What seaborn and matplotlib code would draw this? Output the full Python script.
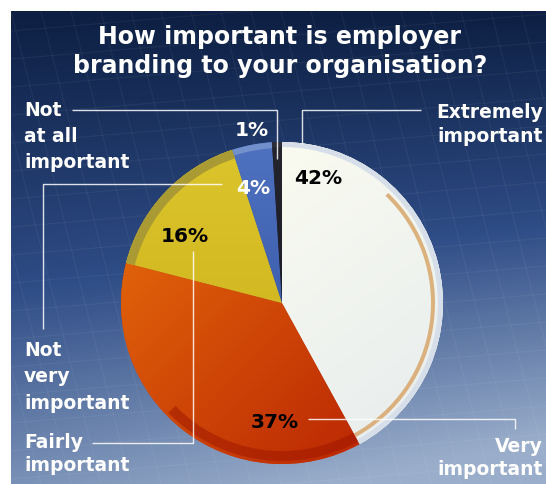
import numpy as np
import matplotlib
matplotlib.use("Agg")
import matplotlib.pyplot as plt
import seaborn as sns
from matplotlib.patches import Wedge
from matplotlib.colors import to_rgb

# ---------------- data ----------------
categories = ["Extremely important", "Very important", "Fairly important",
              "Not very important", "Not at all important"]
values = [42, 37, 16, 4, 1]
pct_labels = ["42%", "37%", "16%", "4%", "1%"]
outer_labels = ["Extremely\nimportant", "Very\nimportant", "Fairly\nimportant",
                "Not\nvery\nimportant", "Not\nat all\nimportant"]
title_lines = ["How important is employer", "branding to your organisation?"]

# ---------------- style ----------------
sns.set_theme(style="white")
FONT = ["DejaVu Sans"]
plt.rcParams["font.family"] = FONT

W, H = 546, 485
fig = plt.figure(figsize=(W / 100, H / 100), dpi=100)
fig.patch.set_facecolor("white")
ax = fig.add_axes([0, 0, 1, 1])

def Y(yp):
    return H - yp

# background gradient (frame starts at x=11, y=12 in pixel space)
fx0, fy0 = 11, 12
ny, nx = 300, 300
yy, xx = np.mgrid[0:1:ny * 1j, 0:1:nx * 1j]
top = np.array(to_rgb("#0d1f42"))
mid = np.array(to_rgb("#2e4c86"))
bot = np.array(to_rgb("#9aaecb"))
t = np.clip(yy * 0.85 + 0.25 * xx * yy, 0, 1)
img = np.where(t[..., None] < 0.5,
               top + (mid - top) * (t[..., None] / 0.5),
               mid + (bot - mid) * ((t[..., None] - 0.5) / 0.5))
ax.imshow(img, extent=(fx0, W, Y(H), Y(fy0)), origin="upper", zorder=0, aspect="auto")

# faint perspective grid
for k in range(-6, 26):
    x0 = fx0 + k * 30
    ax.plot([x0, x0 + 120], [Y(fy0), Y(H)], color="white", alpha=0.05, lw=0.8, zorder=1)
for k in range(0, 20):
    y0 = fy0 + k * 28
    ax.plot([fx0, W], [Y(y0 + 20), Y(y0 - 25)], color="white", alpha=0.05, lw=0.8, zorder=1)

# ---------------- pie ----------------
cx, cy, R = 282, 304, 161
base_colors = ["#f8f8ea", "#cf3f0c", "#d3bc22", "#3c5fae", "#1b1c26"]
wedges, _ = ax.pie(values, startangle=90, counterclock=False,
                   center=(cx, Y(cy)), radius=R, colors=base_colors,
                   wedgeprops=dict(linewidth=0, zorder=3), frame=True)
for w in wedges:
    w.set_zorder(3)

grads = [("#fffff0", "#e6ecee", (0.6, -0.8)),
         ("#ea720c", "#b41c02", (0.7, -0.7)),
         ("#dcc62c", "#c9aa18", (0.0, -1.0)),
         ("#4f72c0", "#2c4c9c", (0.0, -1.0)),
         ("#23242e", "#15161e", (0.0, -1.0))]
gx, gy = np.meshgrid(np.linspace(-1, 1, 200), np.linspace(1, -1, 200))
for w, (c1, c2, d) in zip(wedges, grads):
    s = (gx * d[0] + gy * d[1])
    s = (s - s.min()) / (s.max() - s.min())
    a, b = np.array(to_rgb(c1)), np.array(to_rgb(c2))
    gimg = a + (b - a) * s[..., None]
    im = ax.imshow(gimg, extent=(cx - R, cx + R, Y(cy) - R, Y(cy) + R),
                   origin="upper", zorder=4, aspect="auto")
    im.set_clip_path(w)

# rims and inner arcs
ang = np.cumsum([0] + values)
starts = [90 - 3.6 * a for a in ang[:-1]]
ends = [90 - 3.6 * a for a in ang[1:]]
rim_cols = ["#d6dee9", None, "#a99a34", "#7190cc", "#2c2d38"]
rim_w = [5, 0, 9, 6, 5]
for s0, e0, rc, rw in zip(starts, ends, rim_cols, rim_w):
    if rc:
        ax.add_patch(Wedge((cx, Y(cy)), R, e0, s0, width=rw, facecolor=rc,
                           edgecolor="none", zorder=5))
ax.add_patch(Wedge((cx, Y(cy)), 153, ends[0], 46, width=4, facecolor="#d9aa72",
                   edgecolor="none", zorder=5, alpha=0.9))
ax.add_patch(Wedge((cx, Y(cy)), 158, -136, ends[0], width=10, facecolor="#9c1600",
                   edgecolor="none", zorder=5, alpha=0.5))

# percentage labels
pct_pos = [(318, 178), (275, 423), (185, 237), (253, 188), (252, 130)]
pct_col = ["black", "black", "black", "white", "white"]
for lab, (px, py), c in zip(pct_labels, pct_pos, pct_col):
    ax.text(px, Y(py), lab, ha="center", va="center", fontsize=14.5,
            fontweight="bold", color=c, zorder=8)

# leader lines (pixel coords)
leaders = [
    [(302, 145), (302, 111), (421, 111)],           # Extremely
    [(308, 420), (515, 420), (515, 430)],           # Very
    [(92, 444), (193, 444), (193, 252)],            # Fairly
    [(43, 330), (43, 185), (222, 185)],             # Not very
    [(72, 111), (277, 111), (277, 160)],            # Not at all
]
for pts in leaders:
    xs = [p[0] for p in pts]
    ys = [Y(p[1]) for p in pts]
    ax.plot(xs, ys, color="white", lw=1.0, alpha=0.85, zorder=7,
            solid_capstyle="butt")

# outside labels
lab_pos = [(543, 112, "right", 24), (543, 447, "right", 23),
           (24, 443, "left", 23), (24, 350, "left", 27), (24, 111, "left", 26)]
for lab, (px, py, ha, sp) in zip(outer_labels, lab_pos):
    for i, line in enumerate(lab.split("\n")):
        ax.text(px, Y(py + i * sp), line, ha=ha, va="center", fontsize=13.5,
                fontweight="bold", color="white", zorder=8)

# title
for i, line in enumerate(title_lines):
    ax.text(280, Y(37 + i * 29), line, ha="center", va="center", fontsize=17,
            fontweight="bold", color="white", zorder=8)

ax.set_xlim(0, W)
ax.set_ylim(0, H)
ax.set_aspect("auto")
ax.axis("off")
fig.savefig("out.png", dpi=100, facecolor="white")
